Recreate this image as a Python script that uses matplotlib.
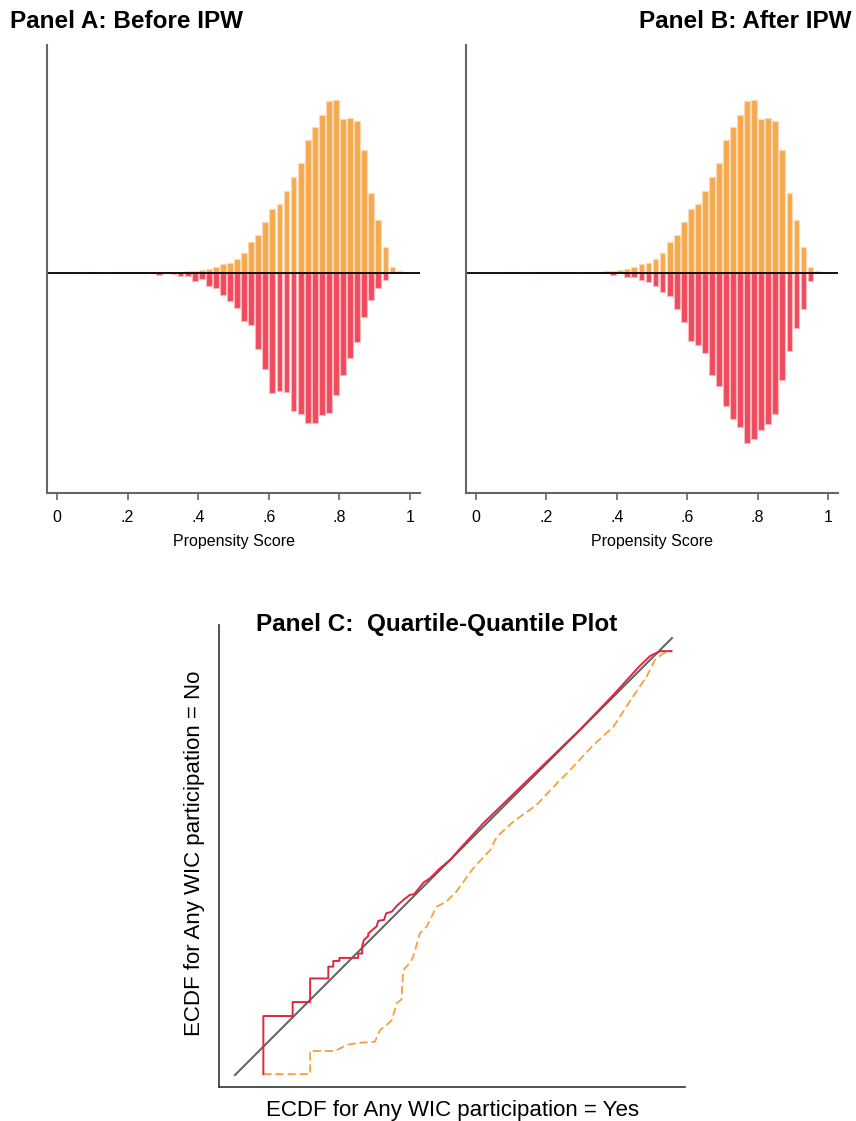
import matplotlib
matplotlib.use("Agg")
import matplotlib.pyplot as plt
import numpy as np

plt.rcParams['font.family'] = ['Liberation Sans', 'DejaVu Sans']

# histogram bins: 50 bins of width .02 on the propensity score
bin_centers = 0.01 + 0.02 * np.arange(50)

# bar heights (arbitrary density units), treated group drawn upward
treated = [0, 0, 0, 0, 0.3, 0.5, 0, 0, 0.5, 0.3,
           0.5, 0.5, 0.5, 0.5, 0, 0.6, 0.7, 0.8, 1.7, 1.3,
           2.7, 4.0, 5.7, 9.0, 9.7, 14.0, 19.7, 30.7, 37.3, 50.7,
           64.0, 68.7, 81.3, 96.0, 109.7, 132.3, 145.3, 158.0, 171.7, 172.7,
           153.3, 154.3, 151.7, 122.3, 79.3, 53.0, 26.0, 5.7, 1.7, 0]

# control group before weighting (drawn downward)
control_before = [0, 0.6, 0, 0.6, 0.4, 0, 0, 0, 0, 0.6,
                  0, 0, 0, 0, 2.7, 0.3, 1.7, 3.0, 3.7, 8.0,
                  6.0, 13.0, 15.0, 22.7, 28.0, 35.0, 48.0, 52.3, 76.7, 96.0,
                  120.3, 118.3, 119.0, 138.7, 141.0, 150.0, 150.0, 142.0, 140.3, 122.0,
                  102.0, 85.3, 69.0, 44.3, 27.0, 15.0, 7.3, 0, 0, 0]

# control group after IPW
control_after = [0, 0.6, 0, 0.6, 0.6, 0, 0, 0.5, 0.5, 0,
                 0, 0, 0, 0, 0, 0, 0, 0, 0, 2.0,
                 0.5, 4.0, 4.7, 7.0, 9.7, 13.0, 19.3, 23.3, 36.7, 49.7,
                 68.0, 72.7, 80.3, 102.3, 113.3, 133.3, 146.3, 154.3, 170.0, 166.0,
                 157.0, 151.0, 141.3, 107.0, 78.3, 55.0, 36.7, 8.0, 0, 0]

xticks = [0, 0.2, 0.4, 0.6, 0.8, 1.0]
xticklabels = ['0', '.2', '.4', '.6', '.8', '1']

# Q-Q plot points (normalized scale)
qq_after_x = [0.065, 0.065, 0.132, 0.132, 0.172, 0.172, 0.2136, 0.2136, 0.225, 0.225,
              0.239, 0.239, 0.282, 0.282, 0.291, 0.291, 0.295, 0.305, 0.305, 0.324,
              0.328, 0.341, 0.346, 0.359, 0.370, 0.387, 0.400, 0.410, 0.419, 0.432,
              0.446, 0.469, 0.492, 0.515, 0.568, 0.667, 0.789, 0.866, 0.925, 0.950,
              0.973, 0.999]
qq_after_y = [0.002, 0.135, 0.135, 0.167, 0.167, 0.221, 0.221, 0.248, 0.248, 0.261,
              0.261, 0.268, 0.268, 0.278, 0.278, 0.294, 0.309, 0.318, 0.324, 0.340,
              0.353, 0.355, 0.370, 0.374, 0.387, 0.402, 0.412, 0.414, 0.425, 0.441,
              0.450, 0.473, 0.492, 0.518, 0.576, 0.672, 0.790, 0.870, 0.935, 0.959,
              0.970, 0.970]

qq_before_x = [0.065, 0.172, 0.172, 0.229, 0.256, 0.286, 0.320, 0.332, 0.347, 0.359,
               0.370, 0.381, 0.385, 0.400, 0.408, 0.423, 0.439, 0.461, 0.484, 0.507,
               0.545, 0.584, 0.599, 0.637, 0.690, 0.736, 0.767, 0.820, 0.866, 0.908,
               0.942, 0.961, 0.980, 0.999]
qq_before_y = [0.002, 0.002, 0.055, 0.055, 0.069, 0.074, 0.076, 0.103, 0.114, 0.126,
               0.164, 0.173, 0.240, 0.256, 0.271, 0.324, 0.340, 0.385, 0.397, 0.420,
               0.473, 0.515, 0.545, 0.580, 0.618, 0.667, 0.698, 0.755, 0.797, 0.862,
               0.912, 0.950, 0.965, 0.970]

ORANGE = '#f5aa50'
ORANGE_EDGE = '#fcd9b0'
RED = '#f04a5c'
RED_EDGE = '#f8b8c0'

fig = plt.figure(figsize=(8.56, 11.21), dpi=100)


def hist_panel(rect, up, down):
    ax = fig.add_axes(rect)
    ax.bar(bin_centers, up, width=0.0165, color=ORANGE, edgecolor=ORANGE_EDGE, linewidth=0.8)
    ax.bar(bin_centers, -np.array(down), width=0.0165, color=RED, edgecolor=RED_EDGE, linewidth=0.8)
    ax.axhline(0, color='black', lw=1.3)
    ax.set_xlim(-0.028, 1.028)
    ax.set_ylim(-220.3, 227.7)
    ax.set_xticks(xticks)
    ax.set_xticklabels(xticklabels, fontsize=11.5)
    ax.set_yticks([])
    for s in ['top', 'right']:
        ax.spines[s].set_visible(False)
    for s in ['left', 'bottom']:
        ax.spines[s].set_color('#666666')
        ax.spines[s].set_linewidth(1.5)
    ax.tick_params(axis='x', direction='out', length=5, width=1.2, color='#666666', pad=7)
    ax.set_xlabel('Propensity Score', fontsize=11.5, labelpad=7)
    return ax


hist_panel([0.0549, 0.5602, 0.4358, 0.3996], treated, control_before)
hist_panel([0.5444, 0.5602, 0.4346, 0.3996], treated, control_after)

fig.text(0.0117, 0.9804, 'Panel A: Before IPW', fontsize=17.5, fontweight='bold', ha='left', va='center')
fig.text(0.9953, 0.9804, 'Panel B: After IPW', fontsize=17.5, fontweight='bold', ha='right', va='center')

# Panel C
axc = fig.add_axes([0.2558, 0.0303, 0.5444, 0.4121])
axc.plot([0, 1], [0, 1], color='#666666', lw=1.5)
axc.plot(qq_before_x, qq_before_y, color='#f5a03c', lw=1.3, dashes=(4.5, 2.2))
axc.plot(qq_after_x, qq_after_y, color='#e0263e', lw=1.4)
axc.set_xlim(-0.0366, 1.0297)
axc.set_ylim(-0.0275, 1.0297)
axc.set_xticks([])
axc.set_yticks([])
for s in ['top', 'right']:
    axc.spines[s].set_visible(False)
for s in ['left', 'bottom']:
    axc.spines[s].set_color('#333333')
    axc.spines[s].set_linewidth(1.2)

fig.text(0.5105, 0.4425, 'Panel C:  Quartile-Quantile Plot', fontsize=17.5, fontweight='bold', ha='center', va='center')
fig.text(0.2278, 0.239, 'ECDF for Any WIC participation = No', fontsize=16, rotation=90, ha='center', va='center')
fig.text(0.529, 0.0098, 'ECDF for Any WIC participation = Yes', fontsize=16, ha='center', va='center')

fig.savefig('out.png', dpi=100)
